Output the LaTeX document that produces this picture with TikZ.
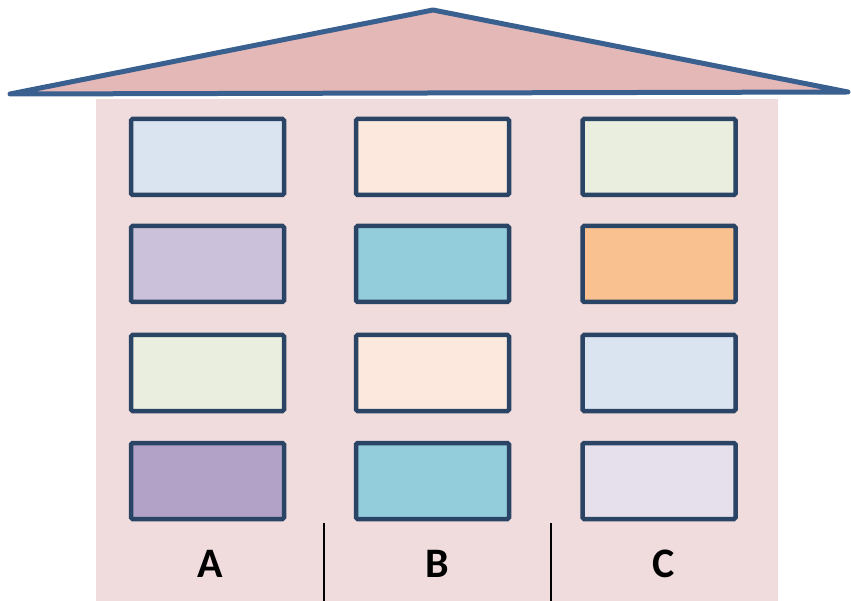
\documentclass[tikz,border=0pt]{standalone}
\usepackage{fontspec}
\setmainfont{Carlito}
\begin{document}
\begin{tikzpicture}[x=1pt,y=-1pt,
  cell/.style={draw=boxline,line width=4.5pt,rounded corners=1.5pt,minimum width=153pt,minimum height=76pt,inner sep=0pt},
  lbl/.style={font=\fontsize{42}{48}\selectfont\bfseries,text=black,inner sep=0pt},
  divider/.style={draw=black,line width=1.5pt}]
\definecolor{boxline}{HTML}{2A4465}
\definecolor{roofline}{HTML}{3A6090}
\definecolor{rooffill}{HTML}{E5B8B8}
\definecolor{bodyfill}{HTML}{F0DCDC}
\definecolor{cA}{HTML}{DAE3F0}
\definecolor{cB}{HTML}{FCE8DC}
\definecolor{cC}{HTML}{EAEEDE}
\definecolor{cD}{HTML}{CBC1DA}
\definecolor{cE}{HTML}{93CDDC}
\definecolor{cF}{HTML}{F9C090}
\definecolor{cG}{HTML}{B2A2C7}
\definecolor{cH}{HTML}{E5E0EC}
\useasboundingbox (0,0) rectangle (851,601);
% body
\fill[bodyfill] (96,99) rectangle (778,601);
% roof
\filldraw[fill=rooffill,draw=roofline,line width=5pt,line join=round,line cap=round]
  (10,94) -- (433,10) -- (848,92) -- cycle;
% boxes
\node[cell,fill=cA] (a1) at (207.5,157) {};
\node[cell,fill=cB] (b1) at (432.5,157) {};
\node[cell,fill=cC] (c1) at (659,157) {};
\node[cell,fill=cD] (a2) at (207.5,264) {};
\node[cell,fill=cE] (b2) at (432.5,264) {};
\node[cell,fill=cF] (c2) at (659,264) {};
\node[cell,fill=cC] (a3) at (207.5,373) {};
\node[cell,fill=cB] (b3) at (432.5,373) {};
\node[cell,fill=cA] (c3) at (659,373) {};
\node[cell,fill=cG] (a4) at (207.5,481) {};
\node[cell,fill=cE] (b4) at (432.5,481) {};
\node[cell,fill=cH] (c4) at (659,481) {};
% dividers
\coordinate (d1t) at (324,523); \coordinate (d1b) at (324,601);
\coordinate (d2t) at (551,523); \coordinate (d2b) at (551,601);
\draw[divider] (d1t) -- (d1b);
\draw[divider] (d2t) -- (d2b);
% labels
\node[lbl] (la) at (210,564) {A};
\node[lbl] (lb) at (437,564) {B};
\node[lbl] (lc) at (664,564) {C};
\end{tikzpicture}
\end{document}
